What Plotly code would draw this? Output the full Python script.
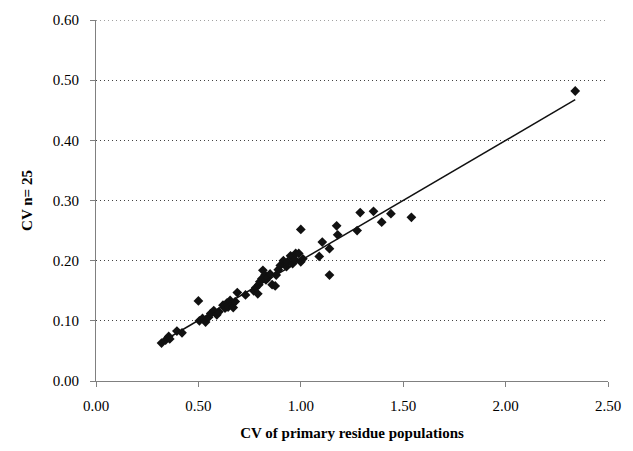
import numpy as np
import plotly.graph_objects as go

# CV of primary residue populations (x) vs CV for n = 25 (y)
cv_primary = [
    0.32, 0.34, 0.355, 0.36, 0.395, 0.42,
    0.50,
    0.505, 0.52, 0.535, 0.55, 0.56, 0.575, 0.59, 0.60, 0.62, 0.63, 0.64, 0.645,
    0.655, 0.665, 0.67, 0.68, 0.69, 0.73,
    0.77, 0.78, 0.79, 0.795, 0.80, 0.81, 0.815, 0.825, 0.83, 0.84, 0.85, 0.86,
    0.875, 0.88, 0.89, 0.90, 0.915, 0.93, 0.935, 0.95, 0.96, 0.97, 0.975, 0.99,
    1.00, 1.00, 1.01,
    1.09, 1.105, 1.14, 1.14, 1.175, 1.18, 1.275, 1.29, 1.355, 1.395, 1.44, 1.54,
    2.34,
]
cv_n25 = [
    0.063, 0.068, 0.074, 0.070, 0.083, 0.080,
    0.133,
    0.100, 0.104, 0.098, 0.106, 0.112, 0.117, 0.110, 0.115, 0.126, 0.121, 0.130, 0.123,
    0.134, 0.128, 0.122, 0.132, 0.147, 0.143,
    0.150, 0.155, 0.145, 0.160, 0.165, 0.170, 0.184, 0.176, 0.168, 0.172, 0.178, 0.160,
    0.158, 0.176, 0.185, 0.192, 0.200, 0.190, 0.198, 0.208, 0.195, 0.202, 0.212, 0.212,
    0.198, 0.252, 0.203,
    0.207, 0.231, 0.220, 0.176, 0.258, 0.243, 0.250, 0.280, 0.282, 0.264, 0.278, 0.272,
    0.482,
]

# linear trendline
trend_slope = 0.1994
trend_intercept = 0.001

x_ticks = [0.0, 0.5, 1.0, 1.5, 2.0, 2.5]
y_ticks = [0.0, 0.1, 0.2, 0.3, 0.4, 0.5, 0.6]

tx = np.array([min(cv_primary), max(cv_primary)])
ty = trend_slope * tx + trend_intercept

fig = go.Figure()
fig.add_trace(go.Scatter(
    x=cv_primary, y=cv_n25, mode="markers",
    marker=dict(symbol="diamond", size=7.5, color="#111111", line=dict(width=0)),
    showlegend=False,
))
fig.add_trace(go.Scatter(
    x=tx, y=ty, mode="lines",
    line=dict(color="#111111", width=1.5),
    showlegend=False,
))

grid_color = "#444444"
grid_dash = "1px,3px"

# top gridline (plotly omits the grid line at the range edge)
fig.add_shape(type="line", xref="paper", x0=0, x1=1, yref="y",
              y0=y_ticks[-1], y1=y_ticks[-1],
              line=dict(color=grid_color, width=1, dash=grid_dash), layer="below")

font_family = "Liberation Serif"
fig.update_layout(
    width=633, height=451,
    margin=dict(l=96, r=17, t=20, b=68),
    paper_bgcolor="white", plot_bgcolor="white",
    font=dict(family=font_family, size=15, color="black"),
)
fig.update_xaxes(
    range=[0, 2.5], tickvals=x_ticks, tickformat=".2f",
    showgrid=False, zeroline=False,
    showline=True, linecolor="#808080", linewidth=1,
    ticks="outside", ticklen=5, tickcolor="#808080",
    ticklabelstandoff=6,
    title=dict(text="<b>CV of primary residue populations</b>",
               font=dict(family=font_family, size=15), standoff=14),
)
fig.update_yaxes(
    range=[0, 0.6], tickvals=y_ticks, tickformat=".2f",
    showgrid=True, gridcolor=grid_color, griddash=grid_dash, gridwidth=1,
    zeroline=False,
    showline=True, linecolor="#808080", linewidth=1,
    ticks="outside", ticklen=5, tickcolor="#808080",
    ticklabelstandoff=8,
    title=dict(text="<b>CV n= 25</b>",
               font=dict(family=font_family, size=15), standoff=16),
)

fig.write_html("out.html")
